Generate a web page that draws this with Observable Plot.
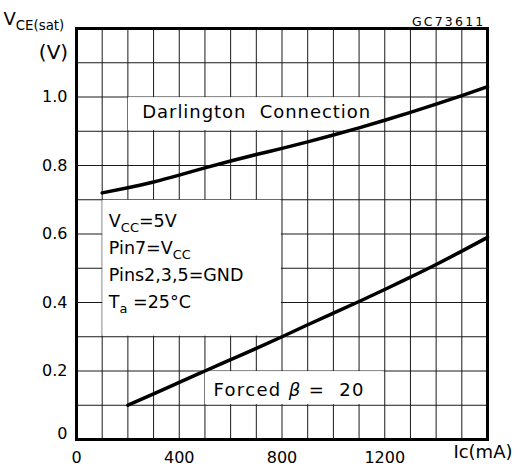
<!DOCTYPE html>
<html>
<head>
<meta charset="utf-8">
<script src="https://cdn.jsdelivr.net/npm/d3@7"></script>
<script src="https://cdn.jsdelivr.net/npm/@observablehq/plot@0.6"></script>
<style>
  html, body { margin: 0; padding: 0; background: #fff; }
  #chart { width: 515px; height: 470px; }
</style>
</head>
<body>
<div id="chart"></div>
<script>
// ---- data ----
const darlingtonCurrent = [100, 200, 300, 400, 500, 600, 700, 800, 900, 1000, 1100, 1200, 1300, 1400, 1500, 1600];
const darlingtonVce     = [0.72, 0.735, 0.752, 0.772, 0.793, 0.813, 0.832, 0.85, 0.869, 0.889, 0.91, 0.932, 0.955, 0.979, 1.004, 1.03];
const forcedCurrent     = [200, 300, 400, 500, 600, 700, 800, 900, 1000, 1100, 1200, 1300, 1400, 1500, 1600];
const forcedVce         = [0.10, 0.133, 0.167, 0.20, 0.233, 0.266, 0.30, 0.335, 0.369, 0.403, 0.438, 0.474, 0.511, 0.55, 0.59];

const xTicks = [0, 400, 800, 1200];
const yTicks = [0.2, 0.4, 0.6, 0.8, 1.0];
const xGrid = [0, 100, 200, 300, 400, 500, 600, 700, 800, 900, 1000, 1100, 1200, 1300, 1400, 1500, 1600];
const yGrid = [0, 0.1, 0.2, 0.3, 0.4, 0.5, 0.6, 0.7, 0.8, 0.9, 1.0, 1.1, 1.2];

const conditionLines = ["V_{CC}=5V", "Pin7=V_{CC}", "Pins2,3,5=GND", "T_{a}\u00a0=25°C"];
const conditionY = [0.637, 0.558, 0.48, 0.401];

// white label boxes (data units)
const labelBoxes = [
  {x1: 200, x2: 1200, y1: 0.9, y2: 1.0},
  {x1: 100, x2: 800, y1: 0.3, y2: 0.7},
  {x1: 500, x2: 1200, y1: 0.1, y2: 0.2}
];

const darlington = darlingtonCurrent.map((x, i) => ({x, y: darlingtonVce[i]}));
const forced = forcedCurrent.map((x, i) => ({x, y: forcedVce[i]}));
const conditions = conditionLines.map((t, i) => ({t, y: conditionY[i]}));

const chart = Plot.plot({
  width: 515,
  height: 470,
  marginLeft: 76,
  marginRight: 28,
  marginTop: 28,
  marginBottom: 31,
  x: {domain: [0, 1600]},
  y: {domain: [0, 1.2]},
  style: {fontFamily: "DejaVu Sans", background: "#fff", color: "#000"},
  marks: [
    Plot.ruleX(xGrid, {x: d => d, stroke: "#1a1a1a", strokeWidth: 1}),
    Plot.ruleY(yGrid, {y: d => d, stroke: "#1a1a1a", strokeWidth: 1}),
    Plot.rect(labelBoxes, {x1: "x1", x2: "x2", y1: "y1", y2: "y2", fill: "#fff", inset: 0.6}),
    Plot.line(darlington, {x: "x", y: "y", curve: "natural", stroke: "#000", strokeWidth: 3.5}),
    Plot.line(forced, {x: "x", y: "y", curve: "natural", stroke: "#000", strokeWidth: 3.5}),
    Plot.text(["Darlington\u00a0 Connection"], {x: 256, y: 0.955, textAnchor: "start", fontSize: 18}),
    Plot.text(["Forced ~{β} =\u00a0 20"], {x: 533, y: 0.145, textAnchor: "start", fontSize: 18}),
    Plot.text(conditions, {x: 126, y: "y", text: "t", textAnchor: "start", fontSize: 17.5}),
    Plot.axisX({ticks: xTicks, tickSize: 0, tickPadding: 12, fontSize: 16, tickFormat: d => String(d)}),
    Plot.axisY({ticks: yTicks, tickSize: 0, tickPadding: 9, fontSize: 16, tickFormat: d => d.toFixed(1)}),
    Plot.axisY({ticks: [0], tickSize: 0, tickPadding: 9, fontSize: 16, dy: -6, tickFormat: () => "0"}),
    Plot.text(["Ic(mA)"], {frameAnchor: "bottom-right", textAnchor: "end", dx: 25, dy: 18, fontSize: 18}),
    Plot.text(["V_{CE(sat)}"], {frameAnchor: "top-left", textAnchor: "start", dx: -73, dy: -16, fontSize: 18}),
    Plot.text(["(V)"], {frameAnchor: "top-left", textAnchor: "middle", dx: -23, dy: 16, fontSize: 20}),
    Plot.text(["GC73611"], {frameAnchor: "top-right", textAnchor: "end", dx: -2, dy: -11, fontSize: 12.5}),
    Plot.frame({stroke: "#000", strokeWidth: 3})
  ]
});

document.getElementById("chart").appendChild(chart);

// letter spacing for the wide stencil-like labels
chart.querySelectorAll("text").forEach(t => {
  const s = t.textContent;
  if (s.startsWith("Darlington")) t.setAttribute("letter-spacing", "0.95");
  else if (s.startsWith("Forced")) t.setAttribute("letter-spacing", "1.35");
  else if (s.startsWith("GC7")) t.setAttribute("letter-spacing", "2.2");
});

// rich text: _{sub} subscripts, ~{italic}
chart.querySelectorAll("text").forEach(t => {
  const s = t.textContent;
  if (!/[_~]\{/.test(s)) return;
  const fs = parseFloat(getComputedStyle(t).fontSize) || 16;
  const shift = fs * 0.28;
  t.textContent = "";
  const re = /([_~])\{([^}]*)\}/g;
  let last = 0, m, pendingUp = false;
  const addPlain = str => {
    if (!str) return;
    const sp = document.createElementNS("http://www.w3.org/2000/svg", "tspan");
    if (pendingUp) { sp.setAttribute("dy", -shift); pendingUp = false; }
    sp.textContent = str;
    t.appendChild(sp);
  };
  while ((m = re.exec(s))) {
    addPlain(s.slice(last, m.index));
    const sp = document.createElementNS("http://www.w3.org/2000/svg", "tspan");
    if (m[1] === "_") {
      if (!pendingUp) sp.setAttribute("dy", shift);
      sp.setAttribute("font-size", fs * 0.74);
      pendingUp = true;
    } else {
      if (pendingUp) { sp.setAttribute("dy", -shift); pendingUp = false; }
      sp.setAttribute("font-style", "italic");
    }
    sp.textContent = m[2];
    t.appendChild(sp);
    last = m.index + m[0].length;
  }
  addPlain(s.slice(last));
});
</script>
</body>
</html>
